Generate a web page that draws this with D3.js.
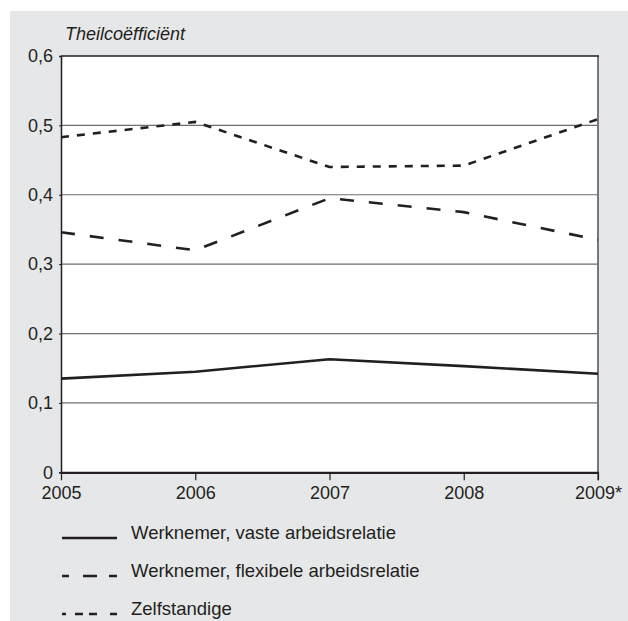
<!DOCTYPE html>
<html>
<head>
<meta charset="utf-8">
<script src="https://cdn.jsdelivr.net/npm/d3@7"></script>
<style>
  body { margin: 0; background: #fff; }
  svg { display: block; font-family: "Liberation Sans", Arial, sans-serif; }
</style>
</head>
<body>
<svg id="chart" width="628" height="621"></svg>
<script>
const years = ["2005", "2006", "2007", "2008", "2009*"];
const vaste = [0.135, 0.145, 0.163, 0.153, 0.142];
const flexibele = [0.346, 0.320, 0.395, 0.375, 0.335];
const zelfstandige = [0.483, 0.505, 0.440, 0.442, 0.509];
const yTicks = [0, 0.1, 0.2, 0.3, 0.4, 0.5, 0.6];
const seriesNames = [
  "Werknemer, vaste arbeidsrelatie",
  "Werknemer, flexibele arbeidsrelatie",
  "Zelfstandige",
];

const ink = "#231f20";
const dashes = [null, "14 15", "8 8"];
const legendDashes = [null, "7 14 14 12 8", "4 9 8 6 8 13 7"];
const series = [vaste, flexibele, zelfstandige];

const svg = d3.select("#chart");

// grey panel
svg.append("rect")
  .attr("x", 10).attr("y", 11)
  .attr("width", 618).attr("height", 610)
  .attr("fill", "#e6e7e8");

const pLeft = 61, pRight = 598, pTop = 56, pBottom = 472.3;

const x = d3.scalePoint().domain(years).range([pLeft, pRight]);
const y = d3.scaleLinear().domain([0, 0.6]).range([pBottom, pTop]);

svg.append("rect")
  .attr("x", pLeft).attr("y", pTop)
  .attr("width", pRight - pLeft).attr("height", pBottom - pTop)
  .attr("fill", "#fff");

// gridlines
svg.append("g")
  .selectAll("line")
  .data(yTicks.filter((d) => d > 0 && d < 0.6))
  .join("line")
  .attr("x1", pLeft).attr("x2", pRight)
  .attr("y1", (d) => y(d)).attr("y2", (d) => y(d))
  .attr("stroke", "#6d6e70")
  .attr("stroke-width", 1.2);

// right border
svg.append("line")
  .attr("x1", pRight).attr("x2", pRight)
  .attr("y1", pTop).attr("y2", pBottom + 8)
  .attr("stroke", "#77787b").attr("stroke-width", 2);

// top border
svg.append("line")
  .attr("x1", pLeft).attr("x2", pRight + 1)
  .attr("y1", pTop).attr("y2", pTop)
  .attr("stroke", ink).attr("stroke-width", 1.5);

// y axis
const yAxis = svg.append("g")
  .attr("transform", `translate(${pLeft},0)`)
  .call(d3.axisLeft(y).tickValues(yTicks).tickSize(2).tickPadding(6)
    .tickFormat((d) => d3.format(".1f")(d).replace(".", ",").replace(/^0,0$/, "0")));
yAxis.select(".domain").attr("stroke", ink).attr("stroke-width", 1.5);
yAxis.selectAll(".tick line").attr("stroke", ink);
yAxis.selectAll("text")
  .attr("font-size", 18).attr("fill", ink);

// x axis
const xAxis = svg.append("g")
  .attr("transform", `translate(0,${pBottom})`)
  .call(d3.axisBottom(x).tickSize(8).tickPadding(6).tickSizeOuter(0));
xAxis.select(".domain").attr("stroke", ink).attr("stroke-width", 2.2);
xAxis.selectAll(".tick line").attr("stroke", ink).attr("stroke-width", 1.2);
xAxis.selectAll("text")
  .attr("font-size", 18).attr("fill", ink);

// unit label
svg.append("text")
  .attr("x", 65).attr("y", 40)
  .attr("font-size", 18).attr("font-style", "italic")
  .attr("fill", ink)
  .text("Theilcoëfficiënt");

// lines
const line = d3.line()
  .x((d, i) => x(years[i]))
  .y((d) => y(d));

series.forEach((vals, i) => {
  svg.append("path")
    .datum(vals)
    .attr("fill", "none")
    .attr("stroke", ink)
    .attr("stroke-width", 2.6)
    .attr("stroke-dasharray", dashes[i])
    .attr("d", line);
});

// legend
const legendY = [538, 576, 614];
seriesNames.forEach((name, i) => {
  svg.append("line")
    .attr("x1", 62).attr("x2", 117)
    .attr("y1", legendY[i]).attr("y2", legendY[i])
    .attr("stroke", ink)
    .attr("stroke-width", 2.4)
    .attr("stroke-dasharray", legendDashes[i]);
  svg.append("text")
    .attr("x", 131).attr("y", legendY[i] + 1)
    .attr("font-size", 18.5).attr("fill", ink)
    .text(name);
});
</script>
</body>
</html>
